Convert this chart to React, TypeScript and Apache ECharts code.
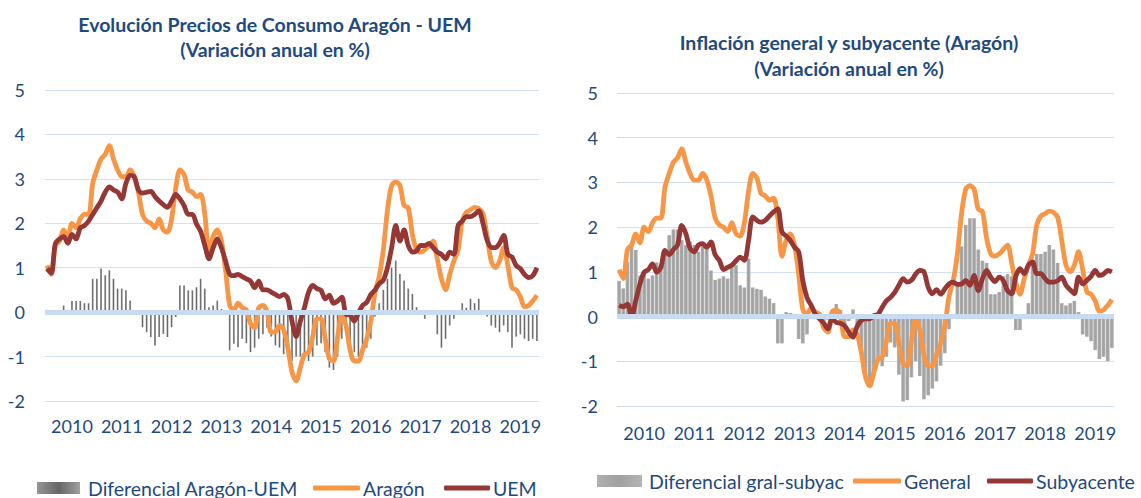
import React, { useEffect, useRef } from "react";
import * as echarts from "echarts";

const YEARS = [2010, 2011, 2012, 2013, 2014, 2015, 2016, 2017, 2018, 2019];
const LAST_MONTH_2019 = 11;

// Aragón / General (annual % change), Jan 2010 - Nov 2019
const aragon = [
  1.05, 0.85, 1.5, 1.6, 1.85, 1.65, 2.0, 1.9, 2.1, 2.2, 2.2, 2.9,
  3.2, 3.45, 3.55, 3.75, 3.45, 3.2, 3.05, 3.05, 3.2, 3.05, 2.7, 2.2,
  2.05, 2.0, 1.9, 2.1, 1.85, 1.8, 2.1, 2.8, 3.2, 3.1, 2.75, 2.7,
  2.6, 2.65, 2.2, 1.35, 1.7, 1.85, 1.6, 0.95, 0.15, 0.05, 0.2, 0.1,
  0.05, -0.25, -0.35, 0.1, 0.15, 0.0, -0.45, -0.45, -0.3, -0.4, -0.8, -1.35,
  -1.55, -1.25, -0.95, -0.9, -0.55, -0.15, -0.15, -0.6, -1.05, -1.1, -0.55, -0.05,
  -0.3, -0.85, -1.1, -1.1, -0.85, -0.6, -0.2, 0.45, 0.8, 1.4, 2.3, 2.85,
  2.93, 2.85, 2.4, 2.35, 1.75, 1.4, 1.35, 1.4, 1.5, 1.6, 1.2, 0.75,
  0.5, 0.85, 1.15, 1.4, 2.05, 2.25, 2.3, 2.36, 2.33, 2.22, 1.7, 1.15,
  1.0, 1.15, 1.45, 1.05, 0.55, 0.5, 0.35, 0.12, 0.15, 0.25, 0.38,
];

// UEM
const uem = [
  0.98, 0.88, 1.55, 1.65, 1.7, 1.55, 1.75, 1.65, 1.9, 1.95, 2.05, 2.2,
  2.35, 2.5, 2.7, 2.82, 2.75, 2.7, 2.55, 2.9, 3.08, 3.05, 2.75, 2.68,
  2.7, 2.72, 2.6, 2.5, 2.42, 2.36, 2.5, 2.65, 2.55, 2.4, 2.2, 2.2,
  1.98, 1.82, 1.5, 1.2, 1.45, 1.65, 1.45, 1.15, 0.85, 0.82, 0.85, 0.8,
  0.75, 0.7, 0.55, 0.7, 0.5, 0.5, 0.45, 0.4, 0.35, 0.4, 0.3, -0.2,
  -0.55, -0.2, 0.1, 0.45, 0.6, 0.53, 0.49, 0.3, 0.38, 0.2, 0.25, 0.34,
  -0.05, -0.07, -0.2, -0.02, 0.15, 0.22, 0.4, 0.5, 0.64, 0.72, 1.0, 1.45,
  1.95, 1.6, 1.85, 1.5, 1.35, 1.38, 1.5, 1.5, 1.55, 1.45, 1.35, 1.3,
  1.2, 1.35, 1.3, 1.95, 2.05, 2.15, 2.15, 2.2, 2.28, 2.0, 1.62, 1.46,
  1.45, 1.55, 1.73, 1.3, 1.24, 1.05, 0.98, 0.85, 0.78, 0.82, 1.0,
];

// Diferencial Aragón-UEM
const difAragonUem = [
  0.05, 0.0, 0.0, 0.0, 0.15, 0.05, 0.25, 0.25, 0.25, 0.2, 0.2, 0.75,
  0.75, 0.98, 0.83, 0.94, 0.75, 0.53, 0.53, 0.49, 0.26, 0.02, 0.0, -0.34,
  -0.45, -0.56, -0.75, -0.56, -0.49, -0.56, -0.34, -0.11, 0.6, 0.6, 0.49, 0.49,
  0.56, 0.75, 0.53, 0.11, 0.15, 0.26, 0.07, 0.03, -0.86, -0.71, -0.79, -0.6,
  -0.7, -0.9, -0.8, -0.6, -0.5, -0.35, -0.55, -0.75, -0.8, -0.95, -1.0, -1.1,
  -1.0, -1.0, -1.05, -1.1, -1.0, -0.75, -0.7, -0.9, -1.25, -1.3, -1.0, -0.6,
  -0.25, -0.75, -0.9, -1.0, -0.95, -0.8, -0.6, -0.1, 0.2, 0.5, 0.75, 1.0,
  1.16, 0.86, 0.71, 0.53, 0.41, 0.11, 0.05, -0.15, 0.0, 0.05, -0.5, -0.8,
  -0.6, -0.3, -0.15, -0.05, 0.2, 0.1, 0.3, 0.2, 0.3, 0.0, -0.1, -0.3,
  -0.35, -0.45, -0.3, -0.45, -0.8, -0.55, -0.5, -0.6, -0.65, -0.6, -0.65,
];

// Subyacente (Aragón)
const subyacente = [
  0.25, 0.22, 0.28, 0.0, 0.36, 0.73, 0.99, 1.05, 1.18, 0.99, 1.1, 1.48,
  1.38, 1.5, 1.6, 2.04, 1.85, 1.52, 1.45, 1.6, 1.63, 1.55, 1.67, 1.38,
  1.26, 1.05, 1.1, 1.15, 1.25, 1.33, 1.26, 1.7, 2.23, 2.15, 2.11, 2.15,
  2.25, 2.34, 2.41, 1.89, 1.8, 1.7, 1.55, 1.45, 0.8, 0.42, 0.25, 0.05,
  -0.05, -0.15, -0.28, -0.05, -0.13, -0.15, -0.2, -0.35, -0.46, -0.22, -0.09, -0.05,
  -0.05, 0.02, 0.05, 0.21, 0.35, 0.43, 0.54, 0.7, 0.85, 0.77, 0.81, 0.95,
  1.03, 1.0, 0.66, 0.51, 0.6, 0.5, 0.62, 0.73, 0.77, 0.72, 0.73, 0.81,
  0.7, 0.92, 0.58, 0.85, 1.03, 0.88, 0.78, 0.88, 0.8, 0.58, 0.51, 0.9,
  1.07, 0.96, 1.15, 1.22, 0.96, 0.96, 0.85, 0.77, 0.77, 0.8, 0.88, 0.7,
  0.6, 0.51, 0.88, 0.73, 0.81, 0.9, 1.03, 0.92, 0.95, 1.03, 1.0,
];

// Diferencial gral-subyac
const difGralSubyac = [
  0.8, 0.63, 1.22, 1.6, 1.49, 0.92, 1.01, 0.85, 0.92, 1.21, 1.1, 1.42,
  1.82, 1.95, 1.95, 1.71, 1.6, 1.68, 1.6, 1.45, 1.57, 1.5, 1.03, 0.82,
  0.85, 0.9, 0.85, 1.15, 1.15, 0.7, 0.65, 1.3, 0.65, 0.62, 0.6, 0.45,
  0.4, 0.3, -0.6, -0.6, 0.1, 0.08, 0.05, -0.5, -0.6, -0.4, -0.05, 0.05,
  0.1, -0.1, -0.07, 0.15, 0.28, 0.15, -0.25, -0.1, 0.16, -0.18, -0.71, -1.3,
  -1.5, -1.27, -1.0, -1.11, -0.9, -0.58, -0.69, -1.3, -1.9, -1.87, -1.36, -1.0,
  -1.33, -1.85, -1.76, -1.61, -1.45, -1.1, -0.82, -0.28, 0.03, 0.68, 1.57, 2.05,
  2.2, 2.2, 1.5, 1.25, 1.2, 0.5, 0.5, 0.55, 0.9, 0.95, 0.9, -0.3,
  -0.3, 0.05, 0.3, 1.2, 1.4, 1.4, 1.45, 1.6, 1.5, 1.2, 0.3, 0.25,
  0.3, 0.35, 0.1, -0.4, -0.45, -0.55, -0.75, -0.95, -0.9, -1.0, -0.7,
];

const Y_MIN = -2;
const Y_MAX = 5;
const Y_STEP = 1;

const categories: string[] = [];
YEARS.forEach((y) => {
  const n = y === 2019 ? LAST_MONTH_2019 : 12;
  for (let m = 1; m <= n; m++) categories.push(`${y}-${m < 10 ? "0" + m : m}`);
});

const FONT = 'Lato, "Open Sans", "Noto Sans", sans-serif';
const BLUE = "#1f4a7e";
const ORANGE = "#f79646";
const DARKRED = "#953735";
const GRID_COLOR = "#d3e0f0";
const ZERO_COLOR = "#c9dbf1";

export default function App() {
  const ref = useRef<HTMLDivElement>(null);
  useEffect(() => {
    if (!ref.current) return;
    const chart = echarts.init(ref.current, undefined, { renderer: "svg" });

    const xAxisFor = (gridIndex: number, margin: number) => ({
      type: "category",
      gridIndex,
      data: categories,
      boundaryGap: true,
      axisLine: { show: false },
      axisTick: { show: false },
      splitLine: { show: false },
      axisLabel: {
        interval: (i: number) => i % 12 === 6,
        formatter: (v: string) => v.slice(0, 4),
        color: BLUE,
        fontFamily: FONT,
        fontSize: 18,
        margin,
      },
    });
    const yAxisFor = (gridIndex: number, margin: number) => ({
      type: "value",
      gridIndex,
      min: Y_MIN,
      max: Y_MAX,
      interval: Y_STEP,
      axisLine: { show: false },
      axisTick: { show: false },
      splitLine: { lineStyle: { color: GRID_COLOR, width: 1.2 } },
      axisLabel: { color: BLUE, fontFamily: FONT, fontSize: 18, margin },
    });

    const zeroLine = {
      silent: true,
      symbol: ["none", "none"],
      label: { show: false },
      lineStyle: { color: ZERO_COLOR, width: 5, type: "solid" },
      data: [{ yAxis: 0 }],
    };

    const grayGradLeft = new echarts.graphic.LinearGradient(0, 0, 1, 0, [
      { offset: 0, color: "#959595" },
      { offset: 0.5, color: "#666666" },
      { offset: 1, color: "#a0a0a0" },
    ]);
    const grayGradRight = new echarts.graphic.LinearGradient(0, 0, 1, 0, [
      { offset: 0, color: "#b0b0b0" },
      { offset: 0.5, color: "#a0a0a0" },
      { offset: 1, color: "#b4b4b4" },
    ]);

    const legendItem = (
      name: string,
      left: number,
      top: number,
      w: number,
      h: number,
      icon: string,
      textPad: number
    ) => ({
      left,
      top,
      padding: 0,
      itemWidth: w,
      itemHeight: h,
      selectedMode: false,
      data: [{ name, icon }],
      textStyle: { color: BLUE, fontFamily: FONT, fontSize: 19.5, padding: [0, 0, 0, textPad] },
    });

    chart.setOption({
      animation: false,
      backgroundColor: "#ffffff",
      textStyle: { fontFamily: FONT },
      grid: [
        { left: 45, top: 90, width: 494, height: 311 },
        { left: 617, top: 93, width: 497, height: 313 },
      ],
      xAxis: [xAxisFor(0, 16), xAxisFor(1, 18)],
      yAxis: [yAxisFor(0, 20), yAxisFor(1, 19)],
      legend: [
        legendItem("Diferencial Aragón-UEM", 37, 478, 43, 12, "rect", 3),
        legendItem("Aragón", 313, 478, 47, 5, "roundRect", -2),
        legendItem("UEM", 444, 478, 46, 5, "roundRect", -2),
        legendItem("Diferencial gral-subyac", 597, 471, 45, 12, "rect", 2),
        legendItem("General", 853, 471, 48, 5, "roundRect", -2),
        legendItem("Subyacente", 987, 471, 46, 5, "roundRect", -2),
      ],
      graphic: [
        {
          type: "text",
          x: 275,
          y: 37,
          style: {
            text: "Evolución Precios de Consumo Aragón - UEM\n(Variación anual en %)",
            align: "center",
            verticalAlign: "middle",
            lineHeight: 25,
            fill: BLUE,
            font: `bold 19.5px ${FONT}`,
          },
        },
        {
          type: "text",
          x: 849,
          y: 55,
          style: {
            text: "Inflación general y subyacente (Aragón)\n(Variación anual en %)",
            align: "center",
            verticalAlign: "middle",
            lineHeight: 26,
            fill: BLUE,
            font: `bold 19.5px ${FONT}`,
          },
        },
      ],
      series: [
        {
          name: "Diferencial Aragón-UEM",
          type: "bar",
          xAxisIndex: 0,
          yAxisIndex: 0,
          data: difAragonUem,
          barCategoryGap: "55%",
          itemStyle: { color: grayGradLeft },
          markLine: zeroLine,
        },
        {
          name: "Aragón",
          type: "line",
          xAxisIndex: 0,
          yAxisIndex: 0,
          data: aragon,
          showSymbol: false,
          symbol: "none",
          smooth: 0.3,
          lineStyle: { color: ORANGE, width: 4.8 },
          itemStyle: { color: ORANGE },
        },
        {
          name: "UEM",
          type: "line",
          xAxisIndex: 0,
          yAxisIndex: 0,
          data: uem,
          showSymbol: false,
          symbol: "none",
          smooth: 0.3,
          lineStyle: { color: DARKRED, width: 4.8 },
          itemStyle: { color: DARKRED },
        },
        {
          name: "Diferencial gral-subyac",
          type: "bar",
          xAxisIndex: 1,
          yAxisIndex: 1,
          data: difGralSubyac,
          barCategoryGap: "12%",
          itemStyle: { color: grayGradRight },
          markLine: zeroLine,
        },
        {
          name: "General",
          type: "line",
          xAxisIndex: 1,
          yAxisIndex: 1,
          data: aragon,
          showSymbol: false,
          symbol: "none",
          smooth: 0.3,
          lineStyle: { color: ORANGE, width: 4.8 },
          itemStyle: { color: ORANGE },
        },
        {
          name: "Subyacente",
          type: "line",
          xAxisIndex: 1,
          yAxisIndex: 1,
          data: subyacente,
          showSymbol: false,
          symbol: "none",
          smooth: 0.3,
          lineStyle: { color: DARKRED, width: 4.8 },
          itemStyle: { color: DARKRED },
        },
      ],
    });
    return () => chart.dispose();
  }, []);

  return (
    <div
      ref={ref}
      style={{ position: "fixed", left: 0, top: 0, width: 1141, height: 498, background: "#fff" }}
    />
  );
}
